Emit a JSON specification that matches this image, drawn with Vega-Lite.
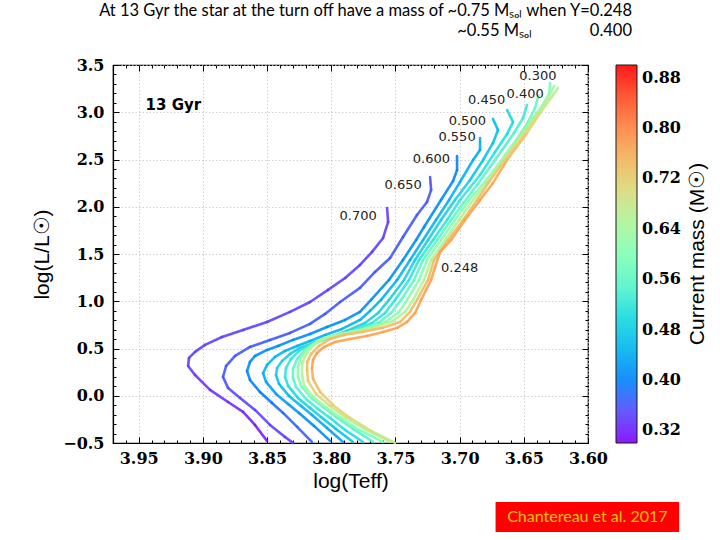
{
"$schema":"https://vega.github.io/schema/vega-lite/v6.json",
"width":475,"height":378,
"autosize":{"type":"none"},
"padding":{"left":113,"top":65,"right":132,"bottom":97},
"background":"white",
"title":{"text":["At 13 Gyr the star at the turn off have a mass of ~0.75 Mₛₒₗ when Y=0.248","~0.55 Mₛₒₗ\u2003\u2003\u2003\u2003\u20020.400"],"anchor":"end","frame":"group","align":"right","dx":44,"offset":18,"font":"Lato","fontSize":16.5,"fontWeight":"normal","color":"black","lineHeight":20},
"datasets":{
"tracks":[
{"Y":"0.700","i":1,"T":3.850,"L":-0.478,"m":0.305},{"Y":"0.700","i":2,"T":3.8594,"L":-0.309,"m":0.31},{"Y":"0.700","i":3,"T":3.8687,"L":-0.171,"m":0.315},{"Y":"0.700","i":4,"T":3.8804,"L":-0.066,"m":0.32},{"Y":"0.700","i":5,"T":3.8944,"L":0.062,"m":0.325},{"Y":"0.700","i":6,"T":3.9061,"L":0.220,"m":0.33},{"Y":"0.700","i":7,"T":3.9115,"L":0.315,"m":0.335},{"Y":"0.700","i":8,"T":3.9108,"L":0.400,"m":0.335},{"Y":"0.700","i":9,"T":3.9061,"L":0.464,"m":0.335},{"Y":"0.700","i":10,"T":3.8983,"L":0.538,"m":0.335},{"Y":"0.700","i":11,"T":3.8851,"L":0.622,"m":0.335},{"Y":"0.700","i":12,"T":3.8687,"L":0.696,"m":0.335},{"Y":"0.700","i":13,"T":3.8500,"L":0.781,"m":0.335},{"Y":"0.700","i":14,"T":3.8321,"L":0.887,"m":0.335},{"Y":"0.700","i":15,"T":3.8165,"L":0.992,"m":0.335},{"Y":"0.700","i":16,"T":3.8025,"L":1.120,"m":0.335},{"Y":"0.700","i":17,"T":3.7892,"L":1.246,"m":0.335},{"Y":"0.700","i":18,"T":3.7776,"L":1.384,"m":0.335},{"Y":"0.700","i":19,"T":3.7682,"L":1.522,"m":0.335},{"Y":"0.700","i":20,"T":3.7596,"L":1.670,"m":0.334},{"Y":"0.700","i":21,"T":3.7557,"L":1.839,"m":0.332},{"Y":"0.700","i":22,"T":3.7565,"L":1.987,"m":0.33},
{"Y":"0.650","i":1,"T":3.8298,"L":-0.499,"m":0.33},{"Y":"0.650","i":2,"T":3.8360,"L":-0.436,"m":0.335},{"Y":"0.650","i":3,"T":3.8477,"L":-0.309,"m":0.34},{"Y":"0.650","i":4,"T":3.8594,"L":-0.150,"m":0.345},{"Y":"0.650","i":5,"T":3.8710,"L":-0.023,"m":0.35},{"Y":"0.650","i":6,"T":3.8804,"L":0.083,"m":0.358},{"Y":"0.650","i":7,"T":3.8843,"L":0.199,"m":0.365},{"Y":"0.650","i":8,"T":3.8819,"L":0.315,"m":0.365},{"Y":"0.650","i":9,"T":3.8749,"L":0.421,"m":0.365},{"Y":"0.650","i":10,"T":3.8633,"L":0.516,"m":0.365},{"Y":"0.650","i":11,"T":3.8477,"L":0.591,"m":0.365},{"Y":"0.650","i":12,"T":3.8321,"L":0.665,"m":0.365},{"Y":"0.650","i":13,"T":3.8165,"L":0.760,"m":0.365},{"Y":"0.650","i":14,"T":3.8048,"L":0.866,"m":0.365},{"Y":"0.650","i":15,"T":3.7931,"L":0.992,"m":0.365},{"Y":"0.650","i":16,"T":3.7776,"L":1.141,"m":0.365},{"Y":"0.650","i":17,"T":3.7659,"L":1.310,"m":0.365},{"Y":"0.650","i":18,"T":3.7542,"L":1.458,"m":0.365},{"Y":"0.650","i":19,"T":3.7441,"L":1.680,"m":0.365},{"Y":"0.650","i":20,"T":3.7332,"L":1.913,"m":0.365},{"Y":"0.650","i":21,"T":3.7254,"L":2.050,"m":0.363},{"Y":"0.650","i":22,"T":3.7222,"L":2.178,"m":0.36},{"Y":"0.650","i":23,"T":3.7230,"L":2.315,"m":0.36},
{"Y":"0.600","i":1,"T":3.8150,"L":-0.489,"m":0.37},{"Y":"0.600","i":2,"T":3.8266,"L":-0.330,"m":0.375},{"Y":"0.600","i":3,"T":3.8375,"L":-0.182,"m":0.38},{"Y":"0.600","i":4,"T":3.8461,"L":-0.076,"m":0.39},{"Y":"0.600","i":5,"T":3.8555,"L":0.040,"m":0.395},{"Y":"0.600","i":6,"T":3.8633,"L":0.167,"m":0.40},{"Y":"0.600","i":7,"T":3.8656,"L":0.262,"m":0.41},{"Y":"0.600","i":8,"T":3.8633,"L":0.358,"m":0.41},{"Y":"0.600","i":9,"T":3.8594,"L":0.421,"m":0.41},{"Y":"0.600","i":10,"T":3.8500,"L":0.485,"m":0.41},{"Y":"0.600","i":11,"T":3.8414,"L":0.527,"m":0.41},{"Y":"0.600","i":12,"T":3.8298,"L":0.591,"m":0.41},{"Y":"0.600","i":13,"T":3.8165,"L":0.654,"m":0.41},{"Y":"0.600","i":14,"T":3.8033,"L":0.728,"m":0.41},{"Y":"0.600","i":15,"T":3.7892,"L":0.802,"m":0.41},{"Y":"0.600","i":16,"T":3.7776,"L":0.887,"m":0.41},{"Y":"0.600","i":17,"T":3.7690,"L":1.014,"m":0.41},{"Y":"0.600","i":18,"T":3.7550,"L":1.225,"m":0.41},{"Y":"0.600","i":19,"T":3.7441,"L":1.437,"m":0.41},{"Y":"0.600","i":20,"T":3.7339,"L":1.648,"m":0.41},{"Y":"0.600","i":21,"T":3.7277,"L":1.786,"m":0.41},{"Y":"0.600","i":22,"T":3.7145,"L":2.072,"m":0.41},{"Y":"0.600","i":23,"T":3.7051,"L":2.273,"m":0.405},{"Y":"0.600","i":24,"T":3.7020,"L":2.389,"m":0.40},{"Y":"0.600","i":25,"T":3.7020,"L":2.537,"m":0.40},
{"Y":"0.550","i":1,"T":3.8009,"L":-0.478,"m":0.405},{"Y":"0.550","i":2,"T":3.8134,"L":-0.319,"m":0.41},{"Y":"0.550","i":3,"T":3.8251,"L":-0.182,"m":0.415},{"Y":"0.550","i":4,"T":3.8336,"L":-0.087,"m":0.425},{"Y":"0.550","i":5,"T":3.8430,"L":0.019,"m":0.43},{"Y":"0.550","i":6,"T":3.8508,"L":0.146,"m":0.44},{"Y":"0.550","i":7,"T":3.8531,"L":0.241,"m":0.45},{"Y":"0.550","i":8,"T":3.8500,"L":0.326,"m":0.45},{"Y":"0.550","i":9,"T":3.8438,"L":0.411,"m":0.45},{"Y":"0.550","i":10,"T":3.8360,"L":0.474,"m":0.45},{"Y":"0.550","i":11,"T":3.8266,"L":0.527,"m":0.45},{"Y":"0.550","i":12,"T":3.8165,"L":0.580,"m":0.45},{"Y":"0.550","i":13,"T":3.8048,"L":0.643,"m":0.45},{"Y":"0.550","i":14,"T":3.7916,"L":0.707,"m":0.45},{"Y":"0.550","i":15,"T":3.7776,"L":0.802,"m":0.45},{"Y":"0.550","i":16,"T":3.7698,"L":0.897,"m":0.45},{"Y":"0.550","i":17,"T":3.7612,"L":1.014,"m":0.45},{"Y":"0.550","i":18,"T":3.7487,"L":1.225,"m":0.45},{"Y":"0.550","i":19,"T":3.7386,"L":1.437,"m":0.45},{"Y":"0.550","i":20,"T":3.7285,"L":1.648,"m":0.45},{"Y":"0.550","i":21,"T":3.7184,"L":1.860,"m":0.45},{"Y":"0.550","i":22,"T":3.7082,"L":2.072,"m":0.45},{"Y":"0.550","i":23,"T":3.6997,"L":2.262,"m":0.445},{"Y":"0.550","i":24,"T":3.6895,"L":2.495,"m":0.44},{"Y":"0.550","i":25,"T":3.6841,"L":2.601,"m":0.435},{"Y":"0.550","i":26,"T":3.6841,"L":2.728,"m":0.43},
{"Y":"0.500","i":1,"T":3.7908,"L":-0.489,"m":0.43},{"Y":"0.500","i":2,"T":3.8033,"L":-0.341,"m":0.44},{"Y":"0.500","i":3,"T":3.8150,"L":-0.203,"m":0.445},{"Y":"0.500","i":4,"T":3.8235,"L":-0.108,"m":0.455},{"Y":"0.500","i":5,"T":3.8329,"L":-0.002,"m":0.46},{"Y":"0.500","i":6,"T":3.8407,"L":0.125,"m":0.47},{"Y":"0.500","i":7,"T":3.8430,"L":0.220,"m":0.48},{"Y":"0.500","i":8,"T":3.8422,"L":0.294,"m":0.48},{"Y":"0.500","i":9,"T":3.8383,"L":0.368,"m":0.48},{"Y":"0.500","i":10,"T":3.8321,"L":0.442,"m":0.48},{"Y":"0.500","i":11,"T":3.8243,"L":0.506,"m":0.48},{"Y":"0.500","i":12,"T":3.8142,"L":0.559,"m":0.48},{"Y":"0.500","i":13,"T":3.8009,"L":0.622,"m":0.48},{"Y":"0.500","i":14,"T":3.7877,"L":0.686,"m":0.48},{"Y":"0.500","i":15,"T":3.7737,"L":0.770,"m":0.48},{"Y":"0.500","i":16,"T":3.7635,"L":0.876,"m":0.48},{"Y":"0.500","i":17,"T":3.7550,"L":1.014,"m":0.48},{"Y":"0.500","i":18,"T":3.7433,"L":1.225,"m":0.48},{"Y":"0.500","i":19,"T":3.7347,"L":1.437,"m":0.48},{"Y":"0.500","i":20,"T":3.7246,"L":1.648,"m":0.48},{"Y":"0.500","i":21,"T":3.7145,"L":1.860,"m":0.48},{"Y":"0.500","i":22,"T":3.7036,"L":2.072,"m":0.48},{"Y":"0.500","i":23,"T":3.6919,"L":2.283,"m":0.475},{"Y":"0.500","i":24,"T":3.6817,"L":2.495,"m":0.47},{"Y":"0.500","i":25,"T":3.6740,"L":2.675,"m":0.465},{"Y":"0.500","i":26,"T":3.6701,"L":2.812,"m":0.46},{"Y":"0.500","i":27,"T":3.6740,"L":2.929,"m":0.46},
{"Y":"0.450","i":1,"T":3.7830,"L":-0.489,"m":0.465},{"Y":"0.450","i":2,"T":3.7963,"L":-0.351,"m":0.475},{"Y":"0.450","i":3,"T":3.8079,"L":-0.224,"m":0.48},{"Y":"0.450","i":4,"T":3.8165,"L":-0.129,"m":0.49},{"Y":"0.450","i":5,"T":3.8259,"L":-0.023,"m":0.50},{"Y":"0.450","i":6,"T":3.8336,"L":0.104,"m":0.51},{"Y":"0.450","i":7,"T":3.8360,"L":0.199,"m":0.52},{"Y":"0.450","i":8,"T":3.8352,"L":0.294,"m":0.52},{"Y":"0.450","i":9,"T":3.8313,"L":0.390,"m":0.52},{"Y":"0.450","i":10,"T":3.8251,"L":0.474,"m":0.52},{"Y":"0.450","i":11,"T":3.8173,"L":0.538,"m":0.52},{"Y":"0.450","i":12,"T":3.8072,"L":0.591,"m":0.52},{"Y":"0.450","i":13,"T":3.7947,"L":0.643,"m":0.52},{"Y":"0.450","i":14,"T":3.7815,"L":0.696,"m":0.52},{"Y":"0.450","i":15,"T":3.7682,"L":0.770,"m":0.52},{"Y":"0.450","i":16,"T":3.7581,"L":0.876,"m":0.52},{"Y":"0.450","i":17,"T":3.7503,"L":1.014,"m":0.52},{"Y":"0.450","i":18,"T":3.7394,"L":1.225,"m":0.52},{"Y":"0.450","i":19,"T":3.7316,"L":1.437,"m":0.52},{"Y":"0.450","i":20,"T":3.7207,"L":1.648,"m":0.52},{"Y":"0.450","i":21,"T":3.7098,"L":1.860,"m":0.52},{"Y":"0.450","i":22,"T":3.6997,"L":2.072,"m":0.52},{"Y":"0.450","i":23,"T":3.6841,"L":2.336,"m":0.515},{"Y":"0.450","i":24,"T":3.6724,"L":2.580,"m":0.51},{"Y":"0.450","i":25,"T":3.6630,"L":2.770,"m":0.50},{"Y":"0.450","i":26,"T":3.6584,"L":2.897,"m":0.495},{"Y":"0.450","i":27,"T":3.6630,"L":3.024,"m":0.49},
{"Y":"0.400","i":1,"T":3.7752,"L":-0.489,"m":0.50},{"Y":"0.400","i":2,"T":3.7892,"L":-0.362,"m":0.51},{"Y":"0.400","i":3,"T":3.8009,"L":-0.235,"m":0.52},{"Y":"0.400","i":4,"T":3.8103,"L":-0.140,"m":0.53},{"Y":"0.400","i":5,"T":3.8196,"L":-0.034,"m":0.54},{"Y":"0.400","i":6,"T":3.8274,"L":0.093,"m":0.55},{"Y":"0.400","i":7,"T":3.8298,"L":0.189,"m":0.56},{"Y":"0.400","i":8,"T":3.8298,"L":0.284,"m":0.56},{"Y":"0.400","i":9,"T":3.8266,"L":0.390,"m":0.56},{"Y":"0.400","i":10,"T":3.8204,"L":0.485,"m":0.56},{"Y":"0.400","i":11,"T":3.8126,"L":0.559,"m":0.56},{"Y":"0.400","i":12,"T":3.8017,"L":0.612,"m":0.56},{"Y":"0.400","i":13,"T":3.7892,"L":0.665,"m":0.56},{"Y":"0.400","i":14,"T":3.7760,"L":0.707,"m":0.56},{"Y":"0.400","i":15,"T":3.7635,"L":0.770,"m":0.56},{"Y":"0.400","i":16,"T":3.7534,"L":0.876,"m":0.56},{"Y":"0.400","i":17,"T":3.7456,"L":1.014,"m":0.56},{"Y":"0.400","i":18,"T":3.7355,"L":1.225,"m":0.56},{"Y":"0.400","i":19,"T":3.7285,"L":1.437,"m":0.56},{"Y":"0.400","i":20,"T":3.7176,"L":1.648,"m":0.56},{"Y":"0.400","i":21,"T":3.7067,"L":1.860,"m":0.56},{"Y":"0.400","i":22,"T":3.6965,"L":2.050,"m":0.56},{"Y":"0.400","i":23,"T":3.6864,"L":2.230,"m":0.555},{"Y":"0.400","i":24,"T":3.6763,"L":2.421,"m":0.55},{"Y":"0.400","i":25,"T":3.6669,"L":2.601,"m":0.54},{"Y":"0.400","i":26,"T":3.6576,"L":2.781,"m":0.535},{"Y":"0.400","i":27,"T":3.6506,"L":2.939,"m":0.525},{"Y":"0.400","i":28,"T":3.6475,"L":3.077,"m":0.52},
{"Y":"0.350","i":1,"T":3.7674,"L":-0.489,"m":0.545},{"Y":"0.350","i":2,"T":3.7830,"L":-0.351,"m":0.555},{"Y":"0.350","i":3,"T":3.7963,"L":-0.224,"m":0.565},{"Y":"0.350","i":4,"T":3.8056,"L":-0.129,"m":0.575},{"Y":"0.350","i":5,"T":3.8157,"L":-0.023,"m":0.585},{"Y":"0.350","i":6,"T":3.8235,"L":0.104,"m":0.60},{"Y":"0.350","i":7,"T":3.8259,"L":0.199,"m":0.61},{"Y":"0.350","i":8,"T":3.8259,"L":0.305,"m":0.61},{"Y":"0.350","i":9,"T":3.8235,"L":0.411,"m":0.61},{"Y":"0.350","i":10,"T":3.8173,"L":0.516,"m":0.61},{"Y":"0.350","i":11,"T":3.8087,"L":0.591,"m":0.61},{"Y":"0.350","i":12,"T":3.7978,"L":0.633,"m":0.61},{"Y":"0.350","i":13,"T":3.7854,"L":0.675,"m":0.61},{"Y":"0.350","i":14,"T":3.7713,"L":0.718,"m":0.61},{"Y":"0.350","i":15,"T":3.7581,"L":0.781,"m":0.61},{"Y":"0.350","i":16,"T":3.7480,"L":0.876,"m":0.61},{"Y":"0.350","i":17,"T":3.7409,"L":1.014,"m":0.61},{"Y":"0.350","i":18,"T":3.7316,"L":1.225,"m":0.61},{"Y":"0.350","i":19,"T":3.7254,"L":1.437,"m":0.61},{"Y":"0.350","i":20,"T":3.7145,"L":1.648,"m":0.61},{"Y":"0.350","i":21,"T":3.7036,"L":1.860,"m":0.61},{"Y":"0.350","i":22,"T":3.6926,"L":2.072,"m":0.61},{"Y":"0.350","i":23,"T":3.6825,"L":2.230,"m":0.605},{"Y":"0.350","i":24,"T":3.6732,"L":2.389,"m":0.60},{"Y":"0.350","i":25,"T":3.6646,"L":2.548,"m":0.59},{"Y":"0.350","i":26,"T":3.6560,"L":2.706,"m":0.58},{"Y":"0.350","i":27,"T":3.6467,"L":2.897,"m":0.57},{"Y":"0.350","i":28,"T":3.6413,"L":3.045,"m":0.565},{"Y":"0.350","i":29,"T":3.6386,"L":3.172,"m":0.56},
{"Y":"0.300","i":1,"T":3.7596,"L":-0.489,"m":0.59},{"Y":"0.300","i":2,"T":3.7783,"L":-0.362,"m":0.60},{"Y":"0.300","i":3,"T":3.7924,"L":-0.235,"m":0.61},{"Y":"0.300","i":4,"T":3.8033,"L":-0.129,"m":0.625},{"Y":"0.300","i":5,"T":3.8142,"L":-0.013,"m":0.635},{"Y":"0.300","i":6,"T":3.8212,"L":0.114,"m":0.65},{"Y":"0.300","i":7,"T":3.8227,"L":0.220,"m":0.66},{"Y":"0.300","i":8,"T":3.8227,"L":0.337,"m":0.66},{"Y":"0.300","i":9,"T":3.8196,"L":0.442,"m":0.66},{"Y":"0.300","i":10,"T":3.8134,"L":0.538,"m":0.66},{"Y":"0.300","i":11,"T":3.8048,"L":0.612,"m":0.66},{"Y":"0.300","i":12,"T":3.7931,"L":0.654,"m":0.66},{"Y":"0.300","i":13,"T":3.7799,"L":0.686,"m":0.66},{"Y":"0.300","i":14,"T":3.7659,"L":0.728,"m":0.66},{"Y":"0.300","i":15,"T":3.7519,"L":0.792,"m":0.66},{"Y":"0.300","i":16,"T":3.7425,"L":0.887,"m":0.66},{"Y":"0.300","i":17,"T":3.7363,"L":1.014,"m":0.66},{"Y":"0.300","i":18,"T":3.7277,"L":1.225,"m":0.66},{"Y":"0.300","i":19,"T":3.7222,"L":1.437,"m":0.66},{"Y":"0.300","i":20,"T":3.7113,"L":1.648,"m":0.66},{"Y":"0.300","i":21,"T":3.7004,"L":1.860,"m":0.66},{"Y":"0.300","i":22,"T":3.6895,"L":2.072,"m":0.66},{"Y":"0.300","i":23,"T":3.6794,"L":2.252,"m":0.655},{"Y":"0.300","i":24,"T":3.6701,"L":2.431,"m":0.645},{"Y":"0.300","i":25,"T":3.6607,"L":2.611,"m":0.635},{"Y":"0.300","i":26,"T":3.6514,"L":2.781,"m":0.625},{"Y":"0.300","i":27,"T":3.6428,"L":2.939,"m":0.61},{"Y":"0.300","i":28,"T":3.6358,"L":3.066,"m":0.60},{"Y":"0.300","i":29,"T":3.6303,"L":3.193,"m":0.59},{"Y":"0.300","i":30,"T":3.6295,"L":3.310,"m":0.58},
{"Y":"0.270","i":1,"T":3.7542,"L":-0.489,"m":0.655},{"Y":"0.270","i":2,"T":3.7729,"L":-0.362,"m":0.67},{"Y":"0.270","i":3,"T":3.7885,"L":-0.235,"m":0.685},{"Y":"0.270","i":4,"T":3.8009,"L":-0.108,"m":0.70},{"Y":"0.270","i":5,"T":3.8118,"L":0.019,"m":0.715},{"Y":"0.270","i":6,"T":3.8181,"L":0.157,"m":0.73},{"Y":"0.270","i":7,"T":3.8188,"L":0.273,"m":0.74},{"Y":"0.270","i":8,"T":3.8188,"L":0.358,"m":0.74},{"Y":"0.270","i":9,"T":3.8157,"L":0.442,"m":0.74},{"Y":"0.270","i":10,"T":3.8095,"L":0.527,"m":0.74},{"Y":"0.270","i":11,"T":3.8009,"L":0.601,"m":0.74},{"Y":"0.270","i":12,"T":3.7900,"L":0.643,"m":0.74},{"Y":"0.270","i":13,"T":3.7760,"L":0.675,"m":0.74},{"Y":"0.270","i":14,"T":3.7604,"L":0.718,"m":0.74},{"Y":"0.270","i":15,"T":3.7464,"L":0.781,"m":0.74},{"Y":"0.270","i":16,"T":3.7386,"L":0.887,"m":0.74},{"Y":"0.270","i":17,"T":3.7332,"L":1.014,"m":0.74},{"Y":"0.270","i":18,"T":3.7246,"L":1.225,"m":0.74},{"Y":"0.270","i":19,"T":3.7199,"L":1.437,"m":0.74},{"Y":"0.270","i":20,"T":3.7090,"L":1.648,"m":0.74},{"Y":"0.270","i":21,"T":3.6973,"L":1.860,"m":0.74},{"Y":"0.270","i":22,"T":3.6864,"L":2.072,"m":0.74},{"Y":"0.270","i":23,"T":3.6771,"L":2.262,"m":0.735},{"Y":"0.270","i":24,"T":3.6677,"L":2.442,"m":0.72},{"Y":"0.270","i":25,"T":3.6576,"L":2.632,"m":0.70},{"Y":"0.270","i":26,"T":3.6475,"L":2.823,"m":0.68},{"Y":"0.270","i":27,"T":3.6381,"L":3.003,"m":0.66},{"Y":"0.270","i":28,"T":3.6311,"L":3.151,"m":0.645},{"Y":"0.270","i":29,"T":3.6264,"L":3.278,"m":0.63},
{"Y":"0.248","i":1,"T":3.7503,"L":-0.499,"m":0.68},{"Y":"0.248","i":2,"T":3.7690,"L":-0.372,"m":0.695},{"Y":"0.248","i":3,"T":3.7854,"L":-0.235,"m":0.71},{"Y":"0.248","i":4,"T":3.7986,"L":-0.097,"m":0.725},{"Y":"0.248","i":5,"T":3.8087,"L":0.040,"m":0.74},{"Y":"0.248","i":6,"T":3.8142,"L":0.178,"m":0.755},{"Y":"0.248","i":7,"T":3.8150,"L":0.294,"m":0.77},{"Y":"0.248","i":8,"T":3.8142,"L":0.379,"m":0.77},{"Y":"0.248","i":9,"T":3.8111,"L":0.453,"m":0.77},{"Y":"0.248","i":10,"T":3.8056,"L":0.516,"m":0.77},{"Y":"0.248","i":11,"T":3.7970,"L":0.569,"m":0.77},{"Y":"0.248","i":12,"T":3.7854,"L":0.601,"m":0.77},{"Y":"0.248","i":13,"T":3.7721,"L":0.633,"m":0.77},{"Y":"0.248","i":14,"T":3.7596,"L":0.675,"m":0.77},{"Y":"0.248","i":15,"T":3.7487,"L":0.718,"m":0.77},{"Y":"0.248","i":16,"T":3.7409,"L":0.781,"m":0.77},{"Y":"0.248","i":17,"T":3.7347,"L":0.876,"m":0.77},{"Y":"0.248","i":18,"T":3.7300,"L":1.014,"m":0.77},{"Y":"0.248","i":19,"T":3.7261,"L":1.120,"m":0.77},{"Y":"0.248","i":20,"T":3.7222,"L":1.225,"m":0.77},{"Y":"0.248","i":21,"T":3.7191,"L":1.363,"m":0.77},{"Y":"0.248","i":22,"T":3.7152,"L":1.522,"m":0.77},{"Y":"0.248","i":23,"T":3.7067,"L":1.648,"m":0.77},{"Y":"0.248","i":24,"T":3.6958,"L":1.860,"m":0.77},{"Y":"0.248","i":25,"T":3.6841,"L":2.072,"m":0.77},{"Y":"0.248","i":26,"T":3.6740,"L":2.252,"m":0.76},{"Y":"0.248","i":27,"T":3.6630,"L":2.495,"m":0.74},{"Y":"0.248","i":28,"T":3.6475,"L":2.781,"m":0.71},{"Y":"0.248","i":29,"T":3.6373,"L":2.992,"m":0.68},{"Y":"0.248","i":30,"T":3.6272,"L":3.183,"m":0.655},{"Y":"0.248","i":31,"T":3.6233,"L":3.257,"m":0.64}
],
"labels":[{"text":"0.300","T":3.639,"L":3.384},{"text":"0.400","T":3.649,"L":3.193},{"text":"0.450","T":3.679,"L":3.130},{"text":"0.500","T":3.694,"L":2.907},{"text":"0.550","T":3.702,"L":2.738},{"text":"0.600","T":3.722,"L":2.505},{"text":"0.650","T":3.744,"L":2.230},{"text":"0.700","T":3.779,"L":1.902},{"text":"0.248","T":3.700,"L":1.352}]
},
"resolve":{"axis":{"x":"independent","y":"independent"}},
"layer":[
{"data":{"name":"tracks"},
 "transform":[{"window":[{"op":"lead","field":"T","as":"T2"},{"op":"lead","field":"L","as":"L2"}],"groupby":["Y"],"sort":[{"field":"i","order":"ascending"}]},{"filter":"isValid(datum.T2)"}],
 "mark":{"type":"rule","strokeWidth":2.6,"strokeCap":"round","opacity":0.9},
 "encoding":{
  "x":{"field":"T","type":"quantitative","scale":{"domain":[3.6,3.97],"reverse":true,"nice":false,"zero":false},"axis":{"orient":"bottom","title":"log(Teff)","values":[3.6,3.65,3.7,3.75,3.8,3.85,3.9,3.95],"format":".2f","labelFont":"DejaVu Serif","labelFontWeight":"bold","labelFontSize":16,"labelPadding":13,"titlePadding":4,"tickSize":-6}},
  "y":{"field":"L","type":"quantitative","scale":{"domain":[-0.5,3.5],"nice":false,"zero":false},"axis":{"orient":"left","title":"log(L/L☉)","values":[-0.5,0,0.5,1,1.5,2,2.5,3,3.5],"format":".1f","labelFont":"DejaVu Serif","labelFontWeight":"bold","labelFontSize":16,"labelPadding":15,"titlePadding":10,"tickSize":-6}},
  "x2":{"field":"T2"},"y2":{"field":"L2"},
  "color":{"field":"m","type":"quantitative",
    "scale":{"domain":[0.3,0.36,0.42,0.48,0.54,0.6,0.66,0.72,0.78,0.84,0.9],"range":["#8000ff","#4d4ffc","#1a96f3","#1acee3","#4df3ce","#80ffb4","#b3f396","#e6ce74","#ff964f","#ff4f28","#ff0000"]},
    "legend":{"orient":"right","offset":27,"padding":0,"direction":"vertical","gradientLength":378,"gradientThickness":21,"gradientStrokeColor":"black","gradientStrokeWidth":1,"values":[0.32,0.4,0.48,0.56,0.64,0.72,0.8,0.88],"format":".2f","labelFont":"DejaVu Serif","labelFontWeight":"bold","labelFontSize":16,"labelColor":"black","labelOffset":5,"labelOverlap":false,"title":"Current mass (M☉)","titleOrient":"right","titleAnchor":"middle","titleLimit":500,"titleFont":"Liberation Sans","titleFontSize":21,"titleFontWeight":"normal","titleColor":"black","titlePadding":6,
      "encoding":{"title":{"angle":{"value":-90},"baseline":{"value":"top"}}}}}
 }
},
{"data":{"name":"labels"},
 "mark":{"type":"text","font":"DejaVu Sans","fontSize":13,"color":"#222222"},
 "encoding":{
  "x":{"field":"T","type":"quantitative","scale":{"domain":[3.6,3.97],"reverse":true,"nice":false,"zero":false},"axis":{"orient":"bottom","title":null,"labels":false,"domain":false,"grid":false,"tickSize":-3,"values":[3.6,3.61,3.62,3.63,3.64,3.65,3.66,3.67,3.68,3.69,3.7,3.71,3.72,3.73,3.74,3.75,3.76,3.77,3.78,3.79,3.8,3.81,3.82,3.83,3.84,3.85,3.86,3.87,3.88,3.89,3.9,3.91,3.92,3.93,3.94,3.95,3.96,3.97]}},
  "y":{"field":"L","type":"quantitative","scale":{"domain":[-0.5,3.5],"nice":false,"zero":false},"axis":{"orient":"left","title":null,"labels":false,"domain":false,"grid":false,"tickSize":-3,"values":[-0.5,-0.4,-0.3,-0.2,-0.1,0,0.1,0.2,0.3,0.4,0.5,0.6,0.7,0.8,0.9,1,1.1,1.2,1.3,1.4,1.5,1.6,1.7,1.8,1.9,2,2.1,2.2,2.3,2.4,2.5,2.6,2.7,2.8,2.9,3,3.1,3.2,3.3,3.4,3.5]}},
  "text":{"field":"text"}
 }
},
{"data":{"values":[{}]},
 "mark":{"type":"text","text":"13 Gyr","font":"DejaVu Sans","fontWeight":"bold","fontSize":15,"color":"black"},
 "encoding":{
  "x":{"datum":3.923,"type":"quantitative","scale":{"domain":[3.6,3.97],"reverse":true,"nice":false,"zero":false},"axis":{"orient":"top","title":null,"labels":false,"domain":false,"grid":false,"tickSize":-6,"values":[3.6,3.65,3.7,3.75,3.8,3.85,3.9,3.95]}},
  "y":{"datum":3.077,"type":"quantitative","scale":{"domain":[-0.5,3.5],"nice":false,"zero":false},"axis":{"orient":"right","title":null,"labels":false,"domain":false,"grid":false,"tickSize":-6,"values":[-0.5,0,0.5,1,1.5,2,2.5,3,3.5]}}
 }
},
{"data":{"values":[{}]},
 "mark":{"type":"rect","color":"#ff0000"},
 "encoding":{
  "x":{"datum":3.672,"type":"quantitative","scale":{"domain":[3.6,3.97],"reverse":true,"nice":false,"zero":false},"axis":{"orient":"top","title":null,"labels":false,"domain":false,"grid":false,"tickSize":-3,"values":[3.6,3.61,3.62,3.63,3.64,3.65,3.66,3.67,3.68,3.69,3.7,3.71,3.72,3.73,3.74,3.75,3.76,3.77,3.78,3.79,3.8,3.81,3.82,3.83,3.84,3.85,3.86,3.87,3.88,3.89,3.9,3.91,3.92,3.93,3.94,3.95,3.96,3.97]}},
  "x2":{"datum":3.529},
  "y":{"datum":-1.124,"type":"quantitative","scale":{"domain":[-0.5,3.5],"nice":false,"zero":false},"axis":{"orient":"right","title":null,"labels":false,"domain":false,"grid":false,"tickSize":-3,"values":[-0.5,-0.4,-0.3,-0.2,-0.1,0,0.1,0.2,0.3,0.4,0.5,0.6,0.7,0.8,0.9,1,1.1,1.2,1.3,1.4,1.5,1.6,1.7,1.8,1.9,2,2.1,2.2,2.3,2.4,2.5,2.6,2.7,2.8,2.9,3,3.1,3.2,3.3,3.4,3.5]}},
  "y2":{"datum":-1.442}
 }
},
{"data":{"values":[{}]},
 "mark":{"type":"text","text":"Chantereau et al. 2017","font":"Lato","fontSize":16,"color":"#ffc000"},
 "encoding":{
  "x":{"datum":3.6005,"type":"quantitative","scale":{"domain":[3.6,3.97],"reverse":true,"nice":false,"zero":false},"axis":null},
  "y":{"datum":-1.283,"type":"quantitative","scale":{"domain":[-0.5,3.5],"nice":false,"zero":false},"axis":null}
 }
}
],
"config":{
 "view":{"stroke":"black","strokeWidth":1.2},
 "axis":{"domainColor":"black","domainWidth":1.2,"tickColor":"black","tickWidth":1,"gridColor":"#c4c4c4","gridDash":[1.5,2],"gridWidth":0.8,"labelFont":"DejaVu Serif","labelFontWeight":"bold","labelFontSize":16,"labelColor":"black","titleFont":"Liberation Sans","titleFontWeight":"normal","titleFontSize":21,"titleColor":"black","labelFlush":false,"labelOverlap":false}
}
}
